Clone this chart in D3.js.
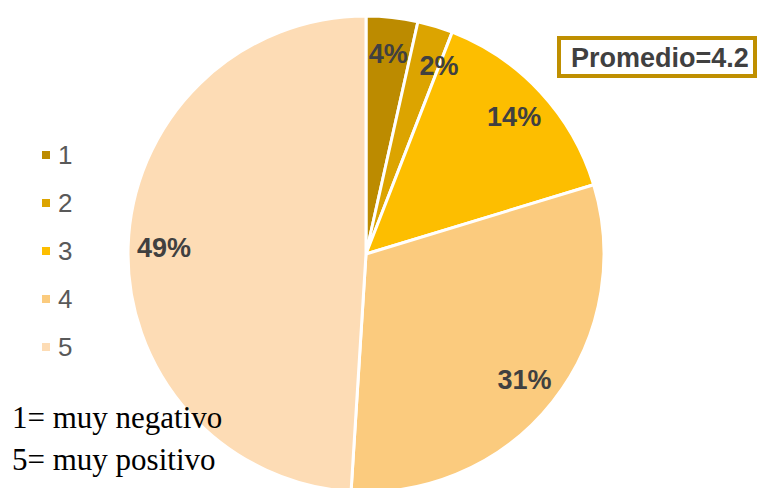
<!DOCTYPE html>
<html>
<head>
<meta charset="utf-8">
<script src="https://cdn.jsdelivr.net/npm/d3@7"></script>
<style>
  body { margin: 0; background: #fff; }
  svg { display: block; }
</style>
</head>
<body>
<div id="chart"></div>
<script>
// --- Data ---
const categories = ["1", "2", "3", "4", "5"];
const shares = [3.5, 2.4, 14.4, 30.7, 49.0];
const sliceColors = ["#BC8B00", "#DCA400", "#FDBE00", "#FBCB7E", "#FDDCB5"];
const averageLabel = "Promedio=4.2";
const scaleNotes = ["1= muy negativo", "5= muy positivo"];

// --- SVG Setup ---
const width = 758;
const height = 488;

const svg = d3.select("#chart")
  .append("svg")
  .attr("width", width)
  .attr("height", height);

const cx = 366, cy = 254, radius = 238;
const labelRadius = 202;

const pie = d3.pie().sort(null).value(d => d);
const arcs = pie(shares);

const arc = d3.arc().innerRadius(0).outerRadius(radius);

const g = svg.append("g").attr("transform", `translate(${cx},${cy})`);

// --- Slices ---
g.selectAll("path")
  .data(arcs)
  .enter()
  .append("path")
  .attr("d", arc)
  .attr("fill", (d, i) => sliceColors[i])
  .attr("stroke", "#fff")
  .attr("stroke-width", 3)
  .attr("stroke-linejoin", "round");

// --- Label angles: mid-angle, pushed clockwise if too close to the previous one ---
const minGap = 0.26; // radians
let prevAngle = -Infinity;
arcs.forEach(d => {
  let a = (d.startAngle + d.endAngle) / 2;
  if (a - prevAngle < minGap) a = prevAngle + minGap;
  d.labelAngle = a;
  prevAngle = a;
});

// --- Percent labels ---
g.selectAll(".pct")
  .data(arcs)
  .enter()
  .append("text")
  .attr("class", "pct")
  .attr("x", d => labelRadius * Math.sin(d.labelAngle))
  .attr("y", d => -labelRadius * Math.cos(d.labelAngle))
  .attr("text-anchor", "middle")
  .attr("dy", "0.36em")
  .attr("font-family", "Liberation Sans, Arial, sans-serif")
  .attr("font-weight", "bold")
  .attr("font-size", "27px")
  .attr("fill", "#404040")
  .text(d => Math.round(d.data) + "%");

// --- Legend ---
const legendY = d3.scalePoint().domain(categories).range([155, 347]);

const legend = svg.selectAll(".legend")
  .data(categories)
  .enter()
  .append("g")
  .attr("class", "legend")
  .attr("transform", d => `translate(46,${legendY(d)})`);

legend.append("rect")
  .attr("x", -4).attr("y", -4)
  .attr("width", 8).attr("height", 8)
  .attr("fill", (d, i) => sliceColors[i]);

legend.append("text")
  .attr("x", 12)
  .attr("dy", "0.36em")
  .attr("font-family", "Liberation Sans, Arial, sans-serif")
  .attr("font-size", "26px")
  .attr("fill", "#595959")
  .text(d => d);

// --- Average box ---
svg.append("rect")
  .attr("x", 559).attr("y", 38)
  .attr("width", 196).attr("height", 38)
  .attr("fill", "#fff")
  .attr("stroke", "#BF8F00")
  .attr("stroke-width", 4);

svg.append("text")
  .attr("x", 571).attr("y", 67)
  .attr("font-family", "Liberation Sans, Arial, sans-serif")
  .attr("font-weight", "bold")
  .attr("font-size", "27px")
  .attr("fill", "#404040")
  .text(averageLabel);

// --- Scale notes ---
svg.selectAll(".note")
  .data(scaleNotes)
  .enter()
  .append("text")
  .attr("class", "note")
  .attr("x", 12)
  .attr("y", (d, i) => 428 + i * 42)
  .attr("font-family", "Liberation Serif, Times New Roman, serif")
  .attr("font-size", "31px")
  .attr("fill", "#000")
  .text(d => d);
</script>
</body>
</html>
